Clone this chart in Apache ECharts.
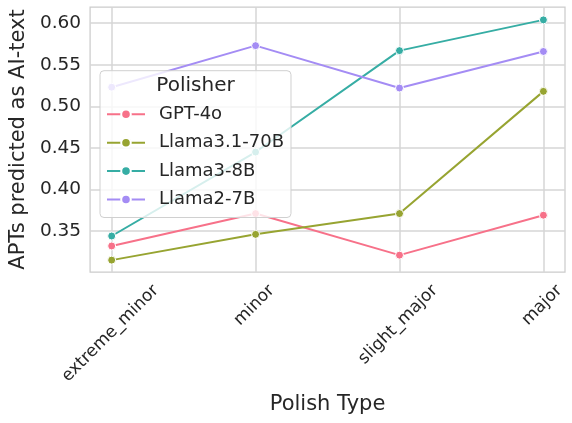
<!DOCTYPE html>
<html><head><meta charset="utf-8">
<script src="https://cdn.jsdelivr.net/npm/echarts@6/dist/echarts.min.js"></script>
<style>html,body{margin:0;padding:0;background:#fff}#c{width:572px;height:423px}</style>
</head><body><div id="c"></div>
<script>
const categories = ['extreme_minor', 'minor', 'slight_major', 'major'];
const seriesNames = ['GPT-4o', 'Llama3.1-70B', 'Llama3-8B', 'Llama2-7B'];
const gpt4o = [0.332, 0.371, 0.321, 0.369];
const llama31_70b = [0.315, 0.346, 0.371, 0.518];
const llama3_8b = [0.344, 0.445, 0.567, 0.604];
const llama2_7b = [0.523, 0.573, 0.522, 0.566];
const yTicks = [0.35, 0.40, 0.45, 0.50, 0.55, 0.60];
const colors = ['#f77189', '#97a431', '#36ada4', '#a48cf4'];
const legendTitle = 'Polisher';
const xName = 'Polish Type';
const yName = 'APTs predicted as AI-text';

const allSeries = [gpt4o, llama31_70b, llama3_8b, llama2_7b];
const FONT = 'DejaVu Sans';
const TXT = '#262626';
const yMin = 0.3007, yMax = 0.6195;
const xTicks = categories.map((c, i) => i);

const chart = echarts.init(document.getElementById('c'), null, {renderer: 'canvas'});
const option = {
  animation: false,
  backgroundColor: '#ffffff',
  textStyle: {fontFamily: FONT},
  grid: {left: 90, right: 7, top: 7, bottom: 151, show: true, borderColor: '#cccccc', borderWidth: 1.25, backgroundColor: 'transparent'},
  xAxis: {
    type: 'value', min: -0.15, max: 3.15,
    name: xName, nameLocation: 'middle', nameGap: 122,
    nameTextStyle: {fontSize: 21, color: TXT, fontFamily: FONT},
    axisLine: {show: false},
    axisTick: {show: false, customValues: xTicks},
    axisLabel: {show: false, customValues: xTicks},
    splitLine: {show: true, lineStyle: {color: '#d6d6d6', width: 1.5}}
  },
  yAxis: {
    type: 'value', min: yMin, max: yMax,
    name: yName, nameLocation: 'middle', nameGap: 52,
    nameTextStyle: {fontSize: 21, color: TXT, fontFamily: FONT},
    axisLine: {show: false},
    axisTick: {show: false, customValues: yTicks},
    axisLabel: {customValues: yTicks, formatter: v => v.toFixed(2), fontSize: 18.5, color: TXT, fontFamily: FONT, margin: 9},
    splitLine: {show: true, lineStyle: {color: '#d6d6d6', width: 1.5}}
  },
  legend: {
    data: seriesNames, orient: 'vertical', left: 100, top: 70.7,
    padding: [34.6, 7, 9, 6], itemWidth: 38, itemHeight: 12, itemGap: 10.4,
    backgroundColor: 'rgba(255,255,255,0.8)', borderColor: '#d0d0d0', borderWidth: 1, borderRadius: 4,
    textStyle: {fontSize: 18, color: TXT, fontFamily: FONT, lineHeight: 16, padding: [0, 0, 0, 9]},
    selectedMode: false
  },
  series: allSeries.map((vals, k) => ({
    name: seriesNames[k], type: 'line', symbol: 'circle', symbolSize: 8,
    color: colors[k],
    itemStyle: {color: colors[k], borderColor: '#ffffff', borderWidth: 1},
    lineStyle: {color: colors[k], width: 2},
    emphasis: {disabled: true},
    data: vals.map((v, i) => [xTicks[i], v])
  }))
};
chart.setOption(option);

const y0 = chart.convertToPixel({yAxisIndex: 0}, yMin);
const ctx = document.createElement('canvas').getContext('2d');
ctx.font = '17px "DejaVu Sans"';
const graphics = categories.map((c, i) => {
  const w = ctx.measureText(c).width;
  const x = chart.convertToPixel({xAxisIndex: 0}, xTicks[i]);
  return {
    type: 'text', x: x - 1.3, y: y0 + 13.3 + 0.7071 * (w / 2 + 3.7), rotation: Math.PI / 4, silent: true, z: 50,
    style: {text: c, align: 'center', verticalAlign: 'middle', fontSize: 17, fontFamily: FONT, fill: TXT}
  };
});
graphics.push({
  type: 'text', x: 195.5, y: 86, silent: true, z: 100,
  style: {text: legendTitle, align: 'center', verticalAlign: 'middle', fontSize: 20, fontFamily: FONT, fill: TXT}
});
chart.setOption({graphic: graphics});
</script>
</body></html>
